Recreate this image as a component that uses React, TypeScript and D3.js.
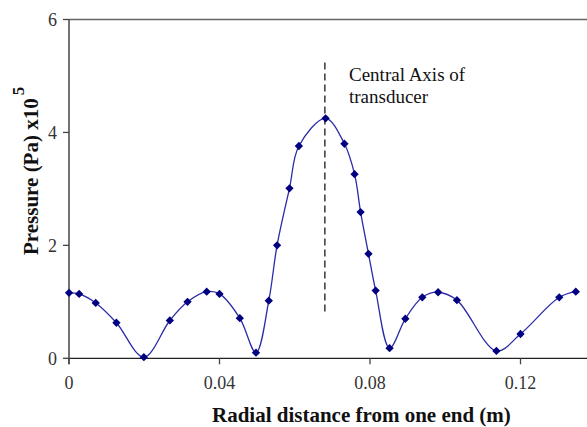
import React, { useEffect, useRef } from 'react';
import * as d3 from 'd3';

const radialDistance = [
  0, 0.0027, 0.0071, 0.0126, 0.0199, 0.0268, 0.0315, 0.0366, 0.04, 0.0454, 0.0497, 0.0531, 0.0553,
  0.0586, 0.0611, 0.0682, 0.0732, 0.0759, 0.0775, 0.0796, 0.0815, 0.0852, 0.0894, 0.0939, 0.0981,
  0.1031, 0.1136, 0.12, 0.1303, 0.1347,
];
const pressure = [
  1.16, 1.14, 0.98, 0.63, 0.02, 0.67, 1.0, 1.18, 1.14, 0.71, 0.1, 1.02, 2.0, 3.01, 3.76, 4.25, 3.8,
  3.26, 2.59, 1.85, 1.2, 0.18, 0.7, 1.08, 1.17, 1.03, 0.13, 0.43, 1.08, 1.18,
];
const xTicks = [0, 0.04, 0.08, 0.12];
const yTicks = [0, 2, 4, 6];
const centralAxis = { x: 0.068, y0: 0.78, y1: 5.24 };
const annotation = ['Central Axis of', 'transducer'];

const W = 587;
const H = 427;

export default function App() {
  const ref = useRef<SVGSVGElement | null>(null);

  useEffect(() => {
    if (!ref.current) return;
    const svg = d3.select(ref.current);
    svg.selectAll('*').remove();

    const margin = { left: 69, top: 19.5, bottom: 427 - 358.3 };
    const x = d3.scaleLinear().domain([0, 0.04]).range([margin.left, margin.left + 150.5]);
    const y = d3.scaleLinear().domain([0, 6]).range([H - margin.bottom, margin.top]);
    const serif = '"Liberation Serif", "Times New Roman", serif';
    const axisColor = '#444';

    // top frame line
    svg
      .append('line')
      .attr('x1', x(0))
      .attr('x2', x(0.14))
      .attr('y1', y(6))
      .attr('y2', y(6))
      .attr('stroke', '#666')
      .attr('stroke-width', 1.5);

    // x axis
    const gx = svg.append('g').attr('transform', `translate(0,${y(0)})`);
    gx.append('line').attr('x1', x(0)).attr('x2', x(0.14)).attr('stroke', '#222').attr('stroke-width', 1.3);
    xTicks.forEach((t) => {
      gx.append('line').attr('x1', x(t)).attr('x2', x(t)).attr('y1', 0).attr('y2', 6).attr('stroke', axisColor).attr('stroke-width', 1.3);
      gx.append('text')
        .attr('x', x(t))
        .attr('y', 31)
        .attr('text-anchor', 'middle')
        .attr('font-family', serif)
        .attr('font-size', 18)
        .attr('fill', '#333')
        .text(t === 0 ? '0' : String(t));
    });

    // y axis
    const gy = svg.append('g');
    gy.append('line').attr('x1', x(0)).attr('x2', x(0)).attr('y1', y(0) + 6).attr('y2', y(6)).attr('stroke', axisColor).attr('stroke-width', 1.5);
    yTicks.forEach((t) => {
      gy.append('line').attr('x1', x(0) - 6).attr('x2', x(0)).attr('y1', y(t)).attr('y2', y(t)).attr('stroke', axisColor).attr('stroke-width', 1.3);
      gy.append('text')
        .attr('x', x(0) - 12)
        .attr('y', y(t))
        .attr('dy', '0.35em')
        .attr('text-anchor', 'end')
        .attr('font-family', serif)
        .attr('font-size', 18)
        .attr('fill', '#333')
        .text(String(t));
    });

    // axis titles
    svg
      .append('text')
      .attr('x', 212)
      .attr('y', 422)
      .attr('font-family', serif)
      .attr('font-weight', 'bold')
      .attr('font-size', 21)
      .attr('fill', '#111')
      .text('Radial distance from one end (m)');

    const yl = svg
      .append('text')
      .attr('transform', 'translate(38,255) rotate(-90)')
      .attr('font-family', serif)
      .attr('font-weight', 'bold')
      .attr('font-size', 21)
      .attr('fill', '#111');
    yl.append('tspan').text('Pressure (Pa) x10');
    yl.append('tspan').attr('dx', 3).attr('dy', -14).attr('font-size', 17).text('5');

    // central axis
    svg
      .append('line')
      .attr('x1', x(centralAxis.x))
      .attr('x2', x(centralAxis.x))
      .attr('y1', y(centralAxis.y1))
      .attr('y2', y(centralAxis.y0))
      .attr('stroke', '#444')
      .attr('stroke-width', 1.6)
      .attr('stroke-dasharray', '7,4');

    annotation.forEach((s, i) => {
      svg
        .append('text')
        .attr('x', 349)
        .attr('y', 81 + i * 22)
        .attr('font-family', serif)
        .attr('font-size', 19)
        .attr('fill', '#111')
        .text(s);
    });

    // series
    const pts = radialDistance.map((d, i) => [d, pressure[i]] as [number, number]);
    const line = d3
      .line<[number, number]>()
      .x((d) => x(d[0]))
      .y((d) => y(d[1]))
      .curve(d3.curveCatmullRom.alpha(0.5));
    svg
      .append('path')
      .attr('d', line(pts))
      .attr('fill', 'none')
      .attr('stroke', '#2b2ba8')
      .attr('stroke-width', 1.3);

    // square diamond markers
    const sym = d3.symbol().type((d3 as any).symbolDiamond2 || d3.symbolDiamond).size(44);
    svg
      .selectAll('path.pt')
      .data(pts)
      .enter()
      .append('path')
      .attr('class', 'pt')
      .attr('transform', (d) => `translate(${x(d[0])},${y(d[1])})`)
      .attr('d', sym() as string)
      .attr('fill', '#000080');
  }, []);

  return (
    <svg
      ref={ref}
      width={W}
      height={H}
      style={{ position: 'absolute', left: 0, top: 0, background: '#fff' }}
    />
  );
}
